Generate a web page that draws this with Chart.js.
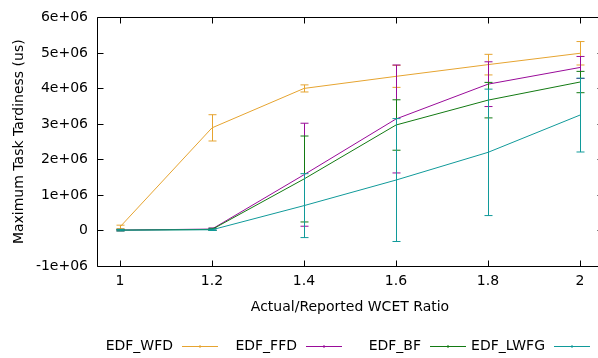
<!DOCTYPE html>
<html>
<head>
<meta charset="utf-8">
<script src="https://cdn.jsdelivr.net/npm/chart.js@4/dist/chart.umd.min.js"></script>
<style>
  html, body { margin: 0; padding: 0; background: #fff; overflow: hidden; }
  canvas { display: block; }
</style>
</head>
<body>
<canvas id="myChart" width="608" height="358"></canvas>
<script>
// data
var ratios = [1, 1.2, 1.4, 1.6, 1.8, 2];
var xTickLabels = ["1", "1.2", "1.4", "1.6", "1.8", "2"];
var yTickValues = [-1e6, 0, 1e6, 2e6, 3e6, 4e6, 5e6, 6e6];
var yTickLabels = ["-1e+06", "0", "1e+06", "2e+06", "3e+06", "4e+06", "5e+06", "6e+06"];

var seriesNames = ["EDF_WFD", "EDF_FFD", "EDF_BF", "EDF_LWFG"];
var seriesColors = ["#e6a430", "#990b99", "#137a13", "#109a9a"];

var wfd     = [0.10e6, 2.89e6, 4.00e6, 4.34e6, 4.67e6, 4.99e6];
var wfdErr  = [0.05e6, 0.37e6, 0.10e6, 0.31e6, 0.29e6, 0.33e6];
var ffd     = [0.01e6, 0.04e6, 1.57e6, 3.14e6, 4.12e6, 4.59e6];
var ffdErr  = [0.02e6, 0.03e6, 1.45e6, 1.52e6, 0.63e6, 0.31e6];
var bf      = [0.01e6, 0.03e6, 1.45e6, 2.97e6, 3.67e6, 4.18e6];
var bfErr   = [0.02e6, 0.03e6, 1.21e6, 0.71e6, 0.50e6, 0.30e6];
var lwfg    = [0.01e6, 0.02e6, 0.70e6, 1.42e6, 2.20e6, 3.25e6];
var lwfgErr = [0.02e6, 0.02e6, 0.90e6, 1.73e6, 1.78e6, 1.04e6];

var allValues = [wfd, ffd, bf, lwfg];
var allErrors = [wfdErr, ffdErr, bfErr, lwfgErr];

var FONT = "'DejaVu Sans', sans-serif";
var FONT_SIZE = 14;

var datasets = seriesNames.map(function(name, i){
  return {
    label: name,
    data: ratios.map(function(x, j){ return {x: x, y: allValues[i][j]}; }),
    errors: allErrors[i],
    borderColor: seriesColors[i],
    backgroundColor: seriesColors[i],
    borderWidth: 1,
    pointRadius: 0,
    tension: 0,
    order: seriesNames.length - i
  };
});

// error bars, drawn right after each line so the stacking follows the series order
var errorBars = {
  id: 'errorBars',
  afterDatasetDraw: function(chart, args){
    var ds = chart.data.datasets[args.index];
    var xs = chart.scales.x, ys = chart.scales.y;
    var ctx = chart.ctx;
    ctx.save();
    ctx.strokeStyle = ds.borderColor;
    ctx.lineWidth = 1;
    ds.data.forEach(function(p, j){
      var px = Math.round(xs.getPixelForValue(p.x)) + 0.5;
      var top = ys.getPixelForValue(p.y + ds.errors[j]);
      var bot = ys.getPixelForValue(p.y - ds.errors[j]);
      ctx.beginPath();
      ctx.moveTo(px, top); ctx.lineTo(px, bot);
      ctx.moveTo(px - 4, top); ctx.lineTo(px + 4, top);
      ctx.moveTo(px - 4, bot); ctx.lineTo(px + 4, bot);
      ctx.stroke();
    });
    ctx.restore();
  }
};

// gnuplot style frame with inward ticks, plus the key under the plot
var frame = {
  id: 'frame',
  afterDraw: function(chart){
    var a = chart.chartArea, ctx = chart.ctx;
    var xs = chart.scales.x, ys = chart.scales.y;
    var L = Math.round(a.left) + 0.5, R = Math.round(a.right) + 0.5;
    var T = Math.round(a.top) + 0.5, B = Math.round(a.bottom) + 0.5;
    ctx.save();
    ctx.strokeStyle = '#000';
    ctx.lineWidth = 1;
    ctx.beginPath();
    ctx.moveTo(L, T); ctx.lineTo(R, T); ctx.lineTo(R, B); ctx.lineTo(L, B); ctx.closePath();
    ratios.forEach(function(v){
      var px = Math.round(xs.getPixelForValue(v)) + 0.5;
      ctx.moveTo(px, B); ctx.lineTo(px, B - 6);
      ctx.moveTo(px, T); ctx.lineTo(px, T + 6);
    });
    yTickValues.forEach(function(v){
      var py = Math.round(ys.getPixelForValue(v)) + 0.5;
      ctx.moveTo(L, py); ctx.lineTo(L + 6, py);
      ctx.moveTo(R, py); ctx.lineTo(R - 6, py);
    });
    ctx.stroke();

    // key
    ctx.font = FONT_SIZE + "px " + FONT;
    ctx.fillStyle = '#000';
    ctx.textAlign = 'right';
    ctx.textBaseline = 'middle';
    var ky = 346.5;
    seriesNames.forEach(function(name, i){
      var x0 = 182 + 124 * i;
      ctx.fillText(name, x0 - 9, ky);
      ctx.strokeStyle = seriesColors[i];
      ctx.beginPath();
      ctx.moveTo(x0, ky); ctx.lineTo(x0 + 36, ky);
      ctx.moveTo(x0 + 18, ky - 1.5); ctx.lineTo(x0 + 18, ky + 1.5);
      ctx.stroke();
    });
    ctx.restore();
  }
};

var ctx = document.getElementById('myChart').getContext('2d');
var chart = new Chart(ctx, {
  type: 'line',
  data: { datasets: datasets },
  plugins: [errorBars, frame],
  options: {
    responsive: false,
    animation: false,
    devicePixelRatio: 1,
    layout: { padding: { top: 13, right: 5, bottom: 38, left: 0 } },
    plugins: {
      legend: { display: false },
      tooltip: { enabled: false }
    },
    scales: {
      x: {
        type: 'linear',
        min: 0.95,
        max: 2.05,
        grid: { display: false, drawTicks: false },
        border: { display: false },
        afterFit: function(s){ s.height = 54; },
        afterBuildTicks: function(s){ s.ticks = ratios.map(function(v){ return {value: v}; }); },
        ticks: {
          padding: 7,
          color: '#000',
          font: { family: FONT, size: FONT_SIZE },
          callback: function(v){ return xTickLabels[ratios.indexOf(v)]; }
        },
        title: {
          display: true,
          text: 'Actual/Reported WCET Ratio',
          color: '#000',
          font: { family: FONT, size: FONT_SIZE },
          padding: { top: 4, bottom: 4 }
        }
      },
      y: {
        min: -1e6,
        max: 6e6,
        grid: { display: false, drawTicks: false },
        border: { display: false },
        afterFit: function(s){ s.width = 97; },
        afterBuildTicks: function(s){ s.ticks = yTickValues.map(function(v){ return {value: v}; }); },
        ticks: {
          padding: 9,
          color: '#000',
          font: { family: FONT, size: FONT_SIZE },
          callback: function(v){ return yTickLabels[yTickValues.indexOf(v)]; }
        },
        title: {
          display: true,
          text: 'Maximum Task Tardiness (us)',
          color: '#000',
          font: { family: FONT, size: FONT_SIZE },
          padding: { top: 11, bottom: 0 }
        }
      }
    }
  }
});
</script>
</body>
</html>
